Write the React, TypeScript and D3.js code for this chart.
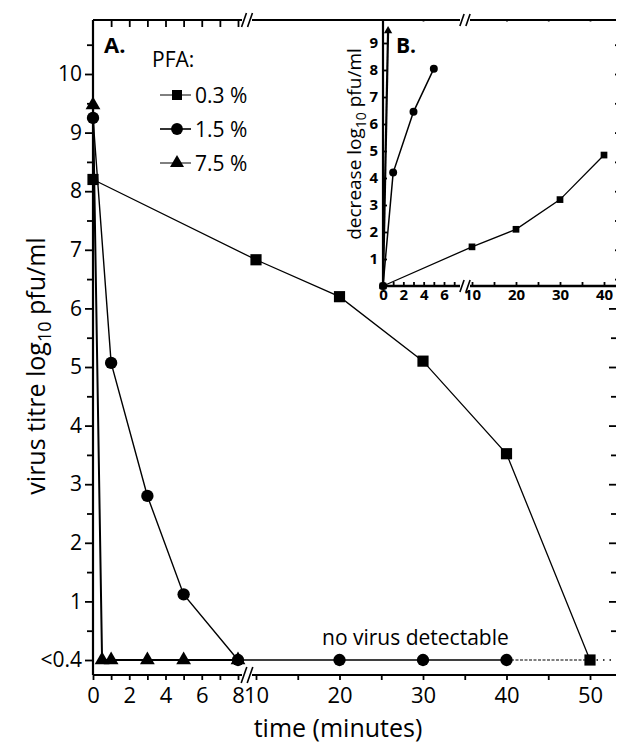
import * as d3 from 'd3';
import * as React from 'react';

const SVG_WIDTH = 618;
const SVG_HEIGHT = 743;
const FONT = "'Open Sans', 'DejaVu Sans', sans-serif";

// A. virus titre (log10 pfu/ml) vs time (min); 0 stands for the "<0.4" level
const timeA03 = [0, 10, 20, 30, 40, 50];
const titreA03 = [8.2, 6.83, 6.2, 5.1, 3.52, 0];
const timeA15 = [0, 1, 3, 5, 8, 20, 30, 40];
const titreA15 = [9.25, 5.07, 2.8, 1.12, 0, 0, 0, 0];
const timeA75 = [0, 0.5, 1, 3, 5, 8];
const titreA75 = [9.47, 0, 0, 0, 0, 0];

const legendLabels = ['0.3 %', '1.5 %', '7.5 %'];
const yTicksA = [0, 1, 2, 3, 4, 5, 6, 7, 8, 9, 10];
const xTicksA1 = [0, 2, 4, 6, 8];
const xTicksA2 = [10, 20, 30, 40, 50];

// B. decrease of titre (log10 pfu/ml) vs time (min)
const timeB03 = [0, 10, 20, 30, 40];
const decreaseB03 = [0, 1.45, 2.1, 3.2, 4.85];
const timeB15 = [0, 1, 3, 5];
const decreaseB15 = [0, 4.2, 6.45, 8.05];
const timeB75 = [0, 0.5];
const decreaseB75 = [0, 9.45];

const yTicksB = [1, 2, 3, 4, 5, 6, 7, 8, 9];
const xTicksB1 = [0, 2, 4, 6];
const xTicksB2 = [10, 20, 30, 40];

const zip = (xs: number[], ys: number[]) => xs.map((x, i) => [x, ys[i]] as [number, number]);

const App = () => {
  const ref = React.useRef<SVGSVGElement>(null);

  React.useEffect(() => {
    const svg = d3.select(ref.current);
    svg.selectAll('*').remove();

    // ---------- panel A ----------
    const left = 93;
    const right = 616;
    const top = 20;
    const bottom = 675;
    const breakA = 247;

    const xA1 = d3.scaleLinear().domain([0, 8]).range([93, 238]);
    const xA2 = d3.scaleLinear().domain([10, 50]).range([256, 590]);
    const xA = (t: number) => (t <= 9 ? xA1(t) : xA2(t));
    const yA = d3.scaleLinear().domain([0, 10]).range([660, 74]);

    const halves = d3.range(1, 22).map(d => d / 2); // 0.5 .. 10.5

    // frame
    svg.append('line').attr('x1', left).attr('x2', right).attr('y1', top).attr('y2', top)
      .attr('stroke', '#000').attr('stroke-width', 2.2);
    svg.append('line').attr('x1', left).attr('x2', right).attr('y1', bottom).attr('y2', bottom)
      .attr('stroke', '#000').attr('stroke-width', 2.2);
    svg.append('line').attr('x1', left).attr('x2', left).attr('y1', top).attr('y2', bottom)
      .attr('stroke', '#000').attr('stroke-width', 2.2);

    const styleAxis = (g: any, size: number) => {
      g.select('.domain').remove();
      g.selectAll('line').attr('stroke', '#000').attr('stroke-width', 1.8);
      g.selectAll('text').attr('font-family', FONT).attr('font-size', size).attr('fill', '#000');
    };

    // left axis
    const gy = svg.append('g').attr('transform', `translate(${left},0)`)
      .call(d3.axisLeft(yA).tickValues(yTicksA).tickSize(8).tickPadding(3)
        .tickFormat(d => (d === 0 ? '<0.4' : String(d))));
    styleAxis(gy, 21);
    const gyMinor = svg.append('g').attr('transform', `translate(${left},0)`)
      .call(d3.axisLeft(yA).tickValues(halves.filter(d => d % 1 !== 0)).tickSize(6).tickFormat(() => ''));
    styleAxis(gyMinor, 10);

    // right axis ticks
    const gr = svg.append('g').attr('transform', `translate(${right},0)`)
      .call(d3.axisLeft(yA).tickValues(halves).tickSize(0).tickFormat(() => ''));
    gr.select('.domain').remove();
    gr.selectAll('.tick line').attr('x2', (d: any) => (d % 1 === 0 ? -7 : -5))
      .attr('stroke', '#000').attr('stroke-width', 1.8);

    // bottom axis
    const gb1 = svg.append('g').attr('transform', `translate(0,${bottom})`)
      .call(d3.axisBottom(xA1).tickValues(d3.range(0, 9)).tickSize(5).tickPadding(7)
        .tickFormat(d => (xTicksA1.includes(+d) ? String(d) : '')));
    styleAxis(gb1, 22);
    const gb2 = svg.append('g').attr('transform', `translate(0,${bottom})`)
      .call(d3.axisBottom(xA2).tickValues(d3.range(10, 55, 5)).tickSize(5).tickPadding(7)
        .tickFormat(d => (xTicksA2.includes(+d) ? String(d) : '')));
    styleAxis(gb2, 22);

    // top axis ticks (inward)
    const gt1 = svg.append('g').attr('transform', `translate(0,${top})`)
      .call(d3.axisBottom(xA1).tickValues(d3.range(1, 9)).tickSize(7).tickFormat(() => ''));
    styleAxis(gt1, 10);
    const gt2 = svg.append('g').attr('transform', `translate(0,${top})`)
      .call(d3.axisBottom(xA2).tickValues(d3.range(30, 55, 5)).tickSize(7).tickFormat(() => ''));
    styleAxis(gt2, 10);

    const breakMark = (cx: number, cy: number, h: number) => {
      svg.append('rect').attr('x', cx - 5).attr('y', cy - 3).attr('width', 10).attr('height', 6).attr('fill', '#fff');
      [-3, 3].forEach(o => {
        svg.append('line')
          .attr('x1', cx + o - h * 0.35).attr('y1', cy + h)
          .attr('x2', cx + o + h * 0.35).attr('y2', cy - h)
          .attr('stroke', '#000').attr('stroke-width', 1.6);
      });
    };
    breakMark(breakA, top, 7);
    breakMark(breakA, bottom, 8);

    // axis titles
    const yTitle = svg.append('text')
      .attr('transform', `translate(45,366) rotate(-90)`)
      .attr('text-anchor', 'middle').attr('font-family', FONT).attr('font-size', 25);
    yTitle.append('tspan').text('virus titre log');
    yTitle.append('tspan').attr('dy', 6).attr('font-size', 18).text('10');
    yTitle.append('tspan').attr('dy', -6).text(' pfu/ml');

    svg.append('text').attr('x', 338).attr('y', 737).attr('text-anchor', 'middle')
      .attr('font-family', FONT).attr('font-size', 25).text('time (minutes)');

    svg.append('text').attr('x', 104).attr('y', 53).attr('font-family', FONT)
      .attr('font-weight', 'bold').attr('font-size', 22).text('A.');

    svg.append('text').attr('x', 322).attr('y', 645).attr('font-family', FONT)
      .attr('font-size', 21).text('no virus detectable');

    // data lines
    const lineA = d3.line<[number, number]>().x(d => xA(d[0])).y(d => yA(d[1]));

    // detection limit beyond the last circle
    svg.append('path').attr('d', lineA([[40, 0], [50, 0]]))
      .attr('fill', 'none').attr('stroke', '#000').attr('stroke-width', 1.1).attr('stroke-dasharray', '3,1.5');
    svg.append('line').attr('x1', xA(50)).attr('x2', right).attr('y1', yA(0)).attr('y2', yA(0))
      .attr('stroke', '#000').attr('stroke-width', 1.3).attr('stroke-dasharray', '1.5,5');

    const seriesA = [
      { pts: zip(timeA75, titreA75), sym: d3.symbolTriangle, size: 95, w: 2 },
      { pts: zip(timeA03, titreA03), sym: d3.symbolSquare, size: 125, w: 1.3 },
      { pts: zip(timeA15, titreA15), sym: d3.symbolCircle, size: 120, w: 1.4 },
    ];
    seriesA.forEach(s => {
      svg.append('path').attr('d', lineA(s.pts)).attr('fill', 'none')
        .attr('stroke', '#000').attr('stroke-width', s.w);
    });
    seriesA.forEach(s => {
      svg.append('g').selectAll('path').data(s.pts).enter().append('path')
        .attr('d', d3.symbol().type(s.sym).size(s.size)())
        .attr('transform', d => `translate(${xA(d[0])},${yA(d[1])})`)
        .attr('fill', '#000');
    });

    // legend
    svg.append('text').attr('x', 152).attr('y', 67).attr('font-family', FONT)
      .attr('font-size', 21).text('PFA:');
    const legSyms = [d3.symbolSquare, d3.symbolCircle, d3.symbolTriangle];
    const legSizes = [100, 110, 85];
    legendLabels.forEach((lab, i) => {
      const ly = 95 + i * 34;
      svg.append('line').attr('x1', 160).attr('x2', 191).attr('y1', ly).attr('y2', ly)
        .attr('stroke', '#000').attr('stroke-width', i === 1 ? 1.6 : 1);
      svg.append('path').attr('d', d3.symbol().type(legSyms[i]).size(legSizes[i])())
        .attr('transform', `translate(177,${ly})`).attr('fill', '#000');
      svg.append('text').attr('x', 195).attr('y', ly + 8).attr('font-family', FONT)
        .attr('font-size', 21).text(lab);
    });

    // ---------- panel B (inset) ----------
    const bLeft = 383;
    const bBottom = 286;
    const breakB = 465;
    const xB1 = d3.scaleLinear().domain([0, 6]).range([383, 444]);
    const xB2 = d3.scaleLinear().domain([10, 40]).range([472, 604]);
    const xB = (t: number) => (t <= 8 ? xB1(t) : xB2(t));
    const yB = d3.scaleLinear().domain([0, 9]).range([bBottom, 43]);

    svg.append('rect').attr('x', bLeft).attr('y', top + 1.5).attr('width', right - bLeft - 1)
      .attr('height', bBottom - top - 1.5).attr('fill', '#fff');
    svg.append('line').attr('x1', bLeft).attr('x2', bLeft).attr('y1', top).attr('y2', bBottom)
      .attr('stroke', '#000').attr('stroke-width', 2.2);
    svg.append('line').attr('x1', bLeft).attr('x2', right).attr('y1', bBottom).attr('y2', bBottom)
      .attr('stroke', '#000').attr('stroke-width', 2.4);

    const gyB = svg.append('g').attr('transform', `translate(${bLeft},0)`)
      .call(d3.axisLeft(yB).tickValues(yTicksB).tickSizeInner(-4).tickSizeOuter(0).tickPadding(5));
    styleAxis(gyB, 15);
    gyB.selectAll('text').attr('font-weight', 'bold');

    const gbB1 = svg.append('g').attr('transform', `translate(0,${bBottom})`)
      .call(d3.axisBottom(xB1).tickValues(d3.range(0, 8)).tickSizeInner(-4).tickSizeOuter(0).tickPadding(3)
        .tickFormat(d => (xTicksB1.includes(+d) ? String(d) : '')));
    styleAxis(gbB1, 15);
    const gbB2 = svg.append('g').attr('transform', `translate(0,${bBottom})`)
      .call(d3.axisBottom(xB2).tickValues(d3.range(10, 45, 5)).tickSizeInner(-4).tickSizeOuter(0).tickPadding(3)
        .tickFormat(d => (xTicksB2.includes(+d) ? String(d) : '')));
    styleAxis(gbB2, 15);
    gbB1.selectAll('text').attr('font-weight', 'bold');
    gbB2.selectAll('text').attr('font-weight', 'bold');

    breakMark(breakB, bBottom, 6);
    breakMark(breakB, top, 6);

    const yTitleB = svg.append('text')
      .attr('transform', `translate(361,144) rotate(-90)`)
      .attr('text-anchor', 'middle').attr('font-family', FONT).attr('font-size', 19);
    yTitleB.append('tspan').text('decrease log');
    yTitleB.append('tspan').attr('dy', 5).attr('font-size', 14).text('10');
    yTitleB.append('tspan').attr('dy', -5).text(' pfu/ml');

    svg.append('text').attr('x', 396).attr('y', 53).attr('font-family', FONT)
      .attr('font-weight', 'bold').attr('font-size', 21).text('B.');

    const lineB = d3.line<[number, number]>().x(d => xB(d[0])).y(d => yB(d[1]));
    const seriesB = [
      { pts: zip(timeB75, decreaseB75), sym: d3.symbolTriangle, size: 30, w: 2.2 },
      { pts: zip(timeB15, decreaseB15), sym: d3.symbolCircle, size: 50, w: 1.5 },
      { pts: zip(timeB03, decreaseB03), sym: d3.symbolSquare, size: 45, w: 1.3 },
    ];
    seriesB.forEach(s => {
      svg.append('path').attr('d', lineB(s.pts)).attr('fill', 'none')
        .attr('stroke', '#000').attr('stroke-width', s.w);
      svg.append('g').selectAll('path').data(s.pts).enter().append('path')
        .attr('d', d3.symbol().type(s.sym).size(s.size)())
        .attr('transform', d => `translate(${xB(d[0])},${yB(d[1])})`)
        .attr('fill', '#000');
    });
  }, []);

  return (
    <svg
      ref={ref}
      width={SVG_WIDTH}
      height={SVG_HEIGHT}
      viewBox={`0 0 ${SVG_WIDTH} ${SVG_HEIGHT}`}
      style={{ position: 'absolute', left: 0, top: 0, background: '#fff' }}
    />
  );
};

export default App;
